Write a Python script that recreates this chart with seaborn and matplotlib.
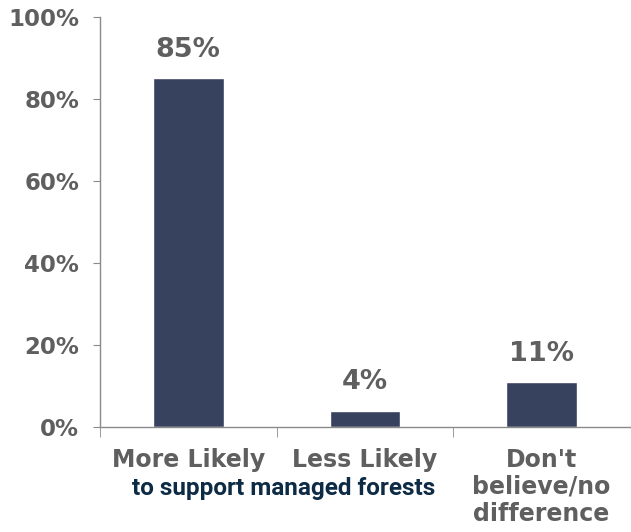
import matplotlib
matplotlib.use("Agg")
import matplotlib.pyplot as plt
import matplotlib.transforms as mtransforms
import seaborn as sns
import pandas as pd
import numpy as np

# dados do gráfico
categorias = ["More Likely", "Less Likely", "Don't\nbelieve/no\ndifference"]
valores = [85, 4, 11]
rotulos_y = ["0%", "20%", "40%", "60%", "80%", "100%"]

df = pd.DataFrame({"cat": categorias, "val": valores})

sns.set_style("white")
plt.rcParams["font.family"] = ["DejaVu Sans"]

cinza = "#5f5f5f"
cor_barra = "#37435e"

fig = plt.figure(figsize=(6.31, 5.32), dpi=100)
ax = fig.add_axes([0.1585, 0.1974, 0.845, 0.7707])

sns.barplot(data=df, x="cat", y="val", color=cor_barra, width=0.4, saturation=1, ax=ax)

ax.set_ylim(0, 100)
ax.set_xlim(-0.5, 2.52)
ax.set_yticks(np.arange(0, 101, 20))
ax.set_yticklabels(rotulos_y, fontsize=16.5, fontweight="bold", color=cinza)
ax.set_xticks(range(len(categorias)))
ax.set_xticklabels(categorias, fontsize=17, fontweight="bold", color=cinza, linespacing=1.15,
                   va="top")
ax.set_xlabel("")
ax.set_ylabel("")

# marcas do eixo x entre as categorias
ax.set_xticks([-0.5, 0.5, 1.5], minor=True)
ax.tick_params(axis="x", which="major", length=0, pad=15)
ax.tick_params(axis="x", which="minor", length=7, color="#8a8a8a", direction="out")
ax.tick_params(axis="y", length=5, color="#8a8a8a", direction="out", pad=10)
ax.xaxis.set_tick_params(bottom=True, which="minor")
ax.yaxis.set_tick_params(left=True)

for s in ["top", "right"]:
    ax.spines[s].set_visible(False)
for s in ["left", "bottom"]:
    ax.spines[s].set_color("#8a8a8a")
    ax.spines[s].set_linewidth(1)

# rótulos de valor
for i, v in enumerate(valores):
    ax.annotate(f"{v}%", (i, v), xytext=(0, 11), textcoords="offset points",
                ha="center", va="bottom", fontsize=19.5, fontweight="bold", color=cinza)

trans = mtransforms.blended_transform_factory(ax.transData, fig.transFigure)
ax.text(0.54, 1 - 489 / 532, "to support managed forests", transform=trans,
        ha="center", va="center", fontsize=17.5, fontweight="bold",
        color="#0d2b45", family=["Liberation Sans Narrow", "Roboto", "DejaVu Sans"])

fig.savefig("out.png", dpi=100)
